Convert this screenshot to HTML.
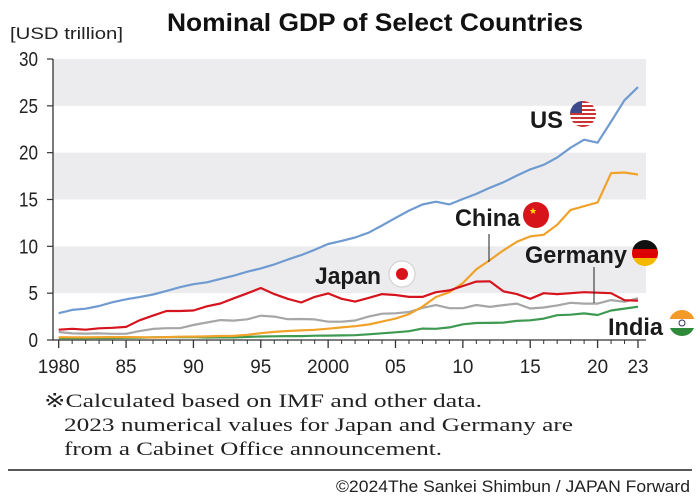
<!DOCTYPE html>
<html><head><meta charset="utf-8"><style>
body{margin:0;background:#fff;width:700px;height:499px;overflow:hidden}
svg{display:block}
</style></head><body>
<svg id="chart" width="700" height="499" viewBox="0 0 700 499">
<text x="167" y="31" textLength="416" lengthAdjust="spacingAndGlyphs" font-family="Liberation Sans, sans-serif" font-weight="bold" font-size="25" fill="#111">Nominal GDP of Select Countries</text>
<text x="10" y="39" textLength="113" lengthAdjust="spacingAndGlyphs" font-family="Liberation Sans, sans-serif" font-size="17" fill="#222">[USD trillion]</text>
<g id="bands"></g><g id="axes"></g><g id="lines"></g>
<g font-family="Liberation Sans, sans-serif" font-weight="bold" font-size="24" fill="#1a1a1a" lengthAdjust="spacingAndGlyphs">
<text x="530" y="128" textLength="33" lengthAdjust="spacingAndGlyphs">US</text>
<text x="455" y="226" textLength="65" lengthAdjust="spacingAndGlyphs">China</text>
<text x="525" y="263" textLength="102" lengthAdjust="spacingAndGlyphs">Germany</text>
<text x="315" y="284" textLength="66" lengthAdjust="spacingAndGlyphs">Japan</text>
<text x="608" y="335" textLength="55" lengthAdjust="spacingAndGlyphs">India</text>
</g>
<line x1="489" y1="234" x2="489" y2="262" stroke="#222" stroke-width="1"/>
<line x1="594" y1="267" x2="594" y2="303" stroke="#222" stroke-width="1"/>
<defs>
<clipPath id="cu"><circle cx="583" cy="114" r="13"/></clipPath>
<clipPath id="cg"><circle cx="645" cy="253" r="13"/></clipPath>
<clipPath id="ci"><circle cx="682" cy="323" r="13"/></clipPath>
</defs>
<g clip-path="url(#cu)">
<rect x="570" y="101" width="26" height="26" fill="#fff"/>
<rect x="570" y="101" width="26" height="2" fill="#c33"/><rect x="570" y="105" width="26" height="2" fill="#c33"/><rect x="570" y="109" width="26" height="2" fill="#c33"/><rect x="570" y="113" width="26" height="2" fill="#c33"/><rect x="570" y="117" width="26" height="2" fill="#c33"/><rect x="570" y="121" width="26" height="2" fill="#c33"/><rect x="570" y="125" width="26" height="2" fill="#c33"/>
<rect x="570" y="101" width="12" height="12" fill="#3b4a8c"/></g>
<circle cx="536" cy="215" r="13" fill="#d7141a"/>
<text x="529" y="214" font-size="9" fill="#ffde00">★</text>
<g clip-path="url(#cg)">
<rect x="632" y="240" width="26" height="9" fill="#111"/><rect x="632" y="249" width="26" height="9" fill="#d00"/><rect x="632" y="258" width="26" height="9" fill="#f5b800"/></g>
<g><circle cx="402" cy="274" r="13" fill="#fff" stroke="#ccc"/><circle cx="402" cy="274" r="6" fill="#d7141a"/></g>
<g clip-path="url(#ci)">
<rect x="669" y="310" width="26" height="9" fill="#f39a2b"/><rect x="669" y="319" width="26" height="9" fill="#fff"/><rect x="669" y="328" width="26" height="9" fill="#2f8a3a"/><circle cx="682" cy="323" r="3" fill="none" stroke="#335"/></g>
<g font-family="Liberation Serif, serif" font-size="19" fill="#222">
<text x="44" y="407" textLength="438" lengthAdjust="spacingAndGlyphs">※Calculated based on IMF and other data.</text>
<text x="64" y="431" textLength="509" lengthAdjust="spacingAndGlyphs">2023 numerical values for Japan and Germany are</text>
<text x="64" y="455" textLength="378" lengthAdjust="spacingAndGlyphs">from a Cabinet Office announcement.</text>
</g>
<line x1="8" y1="470" x2="692" y2="470" stroke="#222" stroke-width="1.5"/>
<text x="336" y="492" textLength="354" lengthAdjust="spacingAndGlyphs" font-family="Liberation Sans, sans-serif" font-size="17" fill="#222">©2024The Sankei Shimbun / JAPAN Forward</text>
</svg>
<script>
const years=[];for(let y=1980;y<=2023;y++)years.push(y);
const yTicks=[0,5,10,15,20,25,30];
const xTickLabels=["1980","85","90","95","2000","05","10","15","20","23"];
const xTickYears=[1980,1985,1990,1995,2000,2005,2010,2015,2020,2023];
const usGDP=[2.86,3.21,3.34,3.63,4.04,4.34,4.58,4.86,5.24,5.64,5.96,6.16,6.52,6.86,7.29,7.64,8.07,8.58,9.06,9.63,10.25,10.58,10.94,11.46,12.22,13.04,13.82,14.47,14.77,14.48,15.05,15.6,16.25,16.84,17.55,18.21,18.7,19.48,20.53,21.38,21.06,23.32,25.6,27.0];
const chinaGDP=[0.3,0.29,0.28,0.3,0.31,0.31,0.3,0.27,0.31,0.35,0.36,0.38,0.43,0.44,0.56,0.73,0.86,0.96,1.03,1.09,1.21,1.34,1.47,1.66,1.96,2.29,2.75,3.55,4.59,5.1,6.09,7.55,8.53,9.57,10.48,11.06,11.23,12.31,13.89,14.28,14.69,17.82,17.88,17.66];
const japanGDP=[1.1,1.2,1.1,1.25,1.3,1.4,2.1,2.6,3.1,3.1,3.15,3.6,3.9,4.45,4.99,5.55,4.9,4.4,4.0,4.6,4.97,4.4,4.1,4.5,4.9,4.8,4.6,4.6,5.1,5.3,5.76,6.23,6.27,5.2,4.9,4.4,5.0,4.9,5.0,5.1,5.05,5.0,4.25,4.2];
const germanyGDP=[0.85,0.7,0.68,0.7,0.66,0.66,0.95,1.18,1.26,1.26,1.6,1.87,2.12,2.07,2.21,2.59,2.5,2.22,2.24,2.2,1.95,1.95,2.08,2.5,2.81,2.85,2.99,3.43,3.73,3.4,3.4,3.74,3.53,3.73,3.89,3.36,3.47,3.69,3.97,3.89,3.89,4.26,4.08,4.46];
const indiaGDP=[0.19,0.2,0.2,0.22,0.21,0.23,0.25,0.28,0.3,0.3,0.32,0.27,0.29,0.28,0.33,0.37,0.39,0.42,0.42,0.46,0.47,0.49,0.51,0.61,0.71,0.82,0.94,1.22,1.2,1.34,1.68,1.82,1.83,1.86,2.04,2.1,2.29,2.65,2.7,2.84,2.67,3.15,3.35,3.55];
const NS="http://www.w3.org/2000/svg";
const X0=58.7,X1=638,Y0=340,Y1=59,PL=53,PR=646;
const xs=y=>X0+(y-1980)*(X1-X0)/43;
const ys=v=>Y0-v*(Y0-Y1)/30;
function mk(tag,attrs,parent){const e=document.createElementNS(NS,tag);for(const k in attrs)e.setAttribute(k,attrs[k]);parent.appendChild(e);return e;}
const bands=document.getElementById('bands'),axes=document.getElementById('axes'),lines=document.getElementById('lines');
[[5,10],[15,20],[25,30]].forEach(b=>{
 const r=mk('rect',{x:PL,y:ys(b[1]),width:PR-PL,height:ys(b[0])-ys(b[1]),fill:'#ececee'},bands);
 
 
});
const ax=mk('path',{d:`M${PL},${Y1}V${Y0}H${PR}`,fill:'none',stroke:'#333','stroke-width':1.3},axes);


yTicks.forEach(v=>{
 mk('line',{x1:PL-6,x2:PL,y1:ys(v),y2:ys(v),stroke:'#333','stroke-width':1.2},axes);
 const s=String(v);
 const t=mk('text',{x:38,y:ys(v)+7,'text-anchor':'end','font-family':'Liberation Sans, sans-serif','font-size':20,fill:'#222',textLength:s.length*9.5,lengthAdjust:'spacingAndGlyphs'},axes);
 t.textContent=s;
 
 
});
years.forEach(y=>{
 const maj=xTickYears.includes(y);
 mk('line',{x1:xs(y),x2:xs(y),y1:Y0,y2:Y0+(maj?8:4),stroke:'#333','stroke-width':maj?1.3:1},axes);
});
xTickYears.forEach((y,i)=>{
 const s=xTickLabels[i];
 const t=mk('text',{x:xs(y),y:373,'text-anchor':'middle','font-family':'Liberation Sans, sans-serif','font-size':19,fill:'#222',textLength:s.length*10.5,lengthAdjust:'spacingAndGlyphs'},axes);
 t.textContent=s;
 
 
});
const series=[[germanyGDP,'#a6a6a6','germany-line'],[indiaGDP,'#3e9a50','india-line'],[chinaGDP,'#f0a22a','china-line'],[japanGDP,'#d6141e','japan-line'],[usGDP,'#6f9bd0','us-line']];
series.forEach(s=>{
 const d=s[0].map((v,i)=>(i?'L':'M')+xs(years[i]).toFixed(1)+','+ys(v).toFixed(1)).join('');
 const p=mk('path',{d:d,fill:'none',stroke:s[1],'stroke-width':2.2,'stroke-linejoin':'round'},lines);
 
 
});
</script>
</body></html>
